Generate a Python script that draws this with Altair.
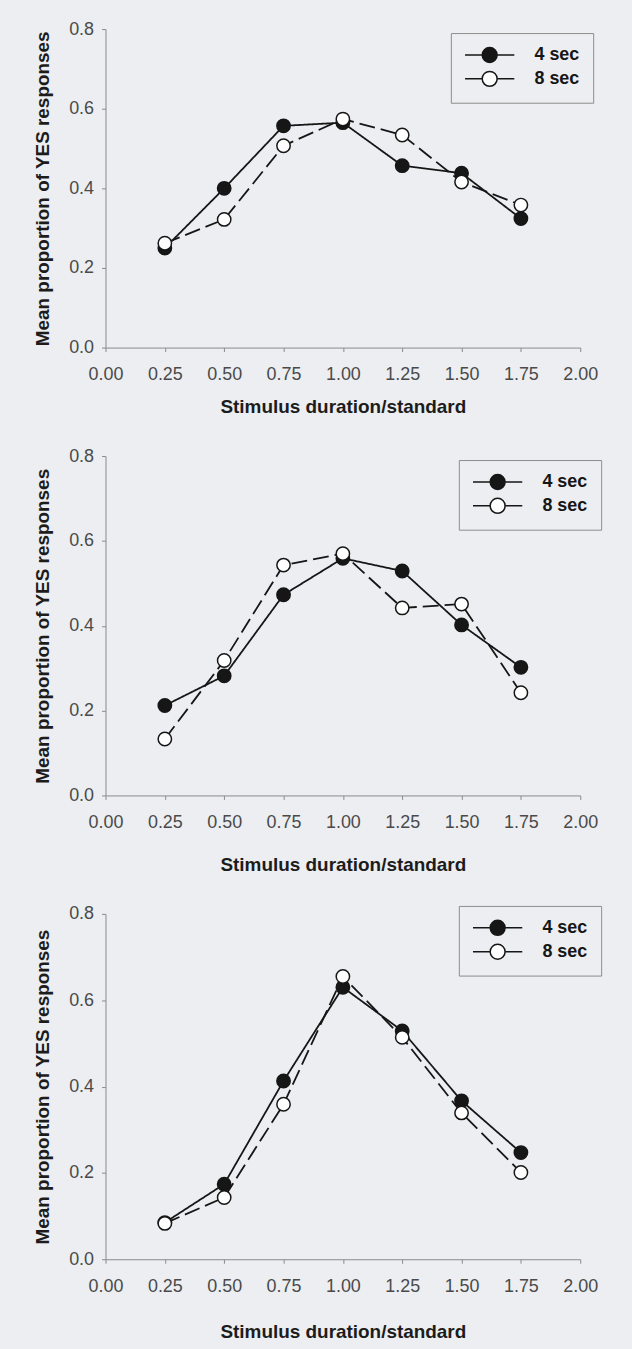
import altair as alt
import pandas as pd

# ---- data (three panels) ----
x_vals = [0.25, 0.50, 0.75, 1.00, 1.25, 1.50, 1.75]
series_names = ["4 sec", "8 sec"]
dash_names = ["solid", "dashed"]

p1_4sec = [0.250, 0.400, 0.557, 0.565, 0.457, 0.438, 0.324]
p1_8sec = [0.262, 0.322, 0.507, 0.574, 0.534, 0.416, 0.358]

p2_4sec = [0.212, 0.282, 0.473, 0.559, 0.529, 0.402, 0.302]
p2_8sec = [0.133, 0.318, 0.543, 0.570, 0.442, 0.451, 0.242]

p3_4sec = [0.085, 0.174, 0.413, 0.630, 0.529, 0.367, 0.247]
p3_8sec = [0.083, 0.143, 0.359, 0.655, 0.514, 0.339, 0.201]

x_ticks = [0.0, 0.25, 0.5, 0.75, 1.0, 1.25, 1.5, 1.75, 2.0]
y_ticks = [0.0, 0.2, 0.4, 0.6, 0.8]

x_title = "Stimulus duration/standard"
y_title = "Mean proportion of YES responses"

INK = "#161616"
BG = "#eceef1"
FONT = "Liberation Sans"
# legend glyph: line - circle - line
SYM = "M-3.3,0L-1,0M1,0L3.3,0M1,0A1,1,0,1,1,-1,0A1,1,0,1,1,1,0Z"


def panel(v4, v8, height, lx, ly, tpad):
    n = len(x_vals)
    df = pd.DataFrame({
        "x": x_vals + x_vals,
        "y": v4 + v8,
        "series": [series_names[0]] * n + [series_names[1]] * n,
        "dash": [dash_names[0]] * n + [dash_names[1]] * n,
    })
    xenc = alt.X(
        "x:Q",
        scale=alt.Scale(domain=[0, 2], nice=False, zero=False),
        axis=alt.Axis(values=x_ticks, format=".2f", title=x_title, labelFlush=False,
                      grid=False, labelPadding=14, titlePadding=tpad),
    )
    yenc = alt.Y(
        "y:Q",
        scale=alt.Scale(domain=[0, 0.8], nice=False),
        axis=alt.Axis(values=y_ticks, format=".1f", title=y_title, grid=False,
                      labelPadding=8, titlePadding=16),
    )
    base = alt.Chart(df)
    lines = base.mark_line(color=INK, strokeWidth=1.8).encode(
        x=xenc,
        y=yenc,
        detail="dash:N",
        strokeDash=alt.StrokeDash(
            "dash:N",
            scale=alt.Scale(domain=dash_names, range=[[1, 0], [16, 6]]),
            legend=None,
        ),
    )
    pts4 = base.transform_filter(alt.datum.series == series_names[0]).mark_point(
        filled=True, fill=INK, size=180, stroke=INK, strokeWidth=1.5, opacity=1
    ).encode(x=xenc, y=yenc)
    pts8 = base.transform_filter(alt.datum.series == series_names[1]).mark_point(
        filled=True, fill="#ffffff", size=180, stroke=INK, strokeWidth=1.5, opacity=1
    ).encode(x=xenc, y=yenc)
    # legend carrier: no rows drawn, legend entries come from the scale domain
    key = base.transform_filter(alt.datum.x < 0).mark_point(
        shape=SYM, filled=True, size=225, stroke=INK, strokeWidth=1.5, opacity=1
    ).encode(
        x=xenc,
        y=yenc,
        fill=alt.Fill(
            "series:N",
            scale=alt.Scale(domain=series_names, range=[INK, "#ffffff"]),
            legend=alt.Legend(
                title=None, orient="none", legendX=lx, legendY=ly,
                symbolType=SYM, symbolSize=225, symbolStrokeColor=INK,
                symbolStrokeWidth=1.5, symbolOffset=17,
                labelFont=FONT, labelFontSize=18, labelFontWeight="bold",
                labelColor=INK, labelOffset=36, padding=13, rowPadding=2,
                strokeColor="#8c8c8c", fillColor=BG,
            ),
        ),
    )
    return alt.layer(lines, pts4, pts8, key).properties(width=477, height=height)


chart = alt.vconcat(
    panel(p1_4sec, p1_8sec, 320, 347, 4, 14),
    panel(p2_4sec, p2_8sec, 341, 355, 4, 24),
    panel(p3_4sec, p3_8sec, 347, 355, -8, 28),
    spacing=31,
).resolve_scale(
    fill="independent", strokeDash="independent"
).resolve_legend(
    fill="independent", strokeDash="independent"
).properties(
    background=BG,
    padding={"top": 17, "left": 33, "right": 30, "bottom": 14},
).configure_view(
    stroke=None
).configure_axis(
    domainColor="#8a8a8a",
    tickColor="#8a8a8a",
    tickSize=4,
    labelFont=FONT,
    labelFontSize=18,
    labelColor="#4a4a4a",
    titleFont=FONT,
    titleFontSize=19,
    titleFontWeight="bold",
    titleColor="#1c1c1c",
)

chart.save("out.html", embed_options={"renderer": "svg", "actions": False})
